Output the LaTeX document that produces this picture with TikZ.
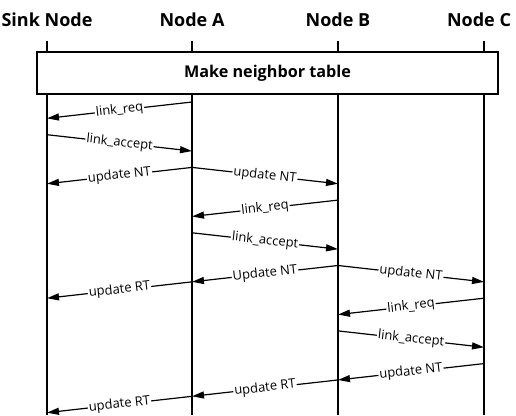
\documentclass[tikz,border=0pt]{standalone}
\usepackage{fontspec}
\setmainfont{Open Sans}
\usetikzlibrary{arrows.meta, positioning}

\begin{document}
\begin{tikzpicture}[x=1pt, y=1pt,
    head/.style={font=\fontsize{18}{20}\selectfont\bfseries, inner sep=0pt},
    life/.style={line width=1.4pt},
    phase/.style={draw, line width=1.1pt, fill=white, minimum width=461pt, minimum height=42pt, font=\fontsize{16.2}{18}\selectfont\bfseries},
    msg/.style={line width=1.2pt, -{Triangle[length=12pt, width=7pt]}},
    lbl/.style={midway, sloped, fill=white, inner sep=1pt, font=\fontsize{13}{15}\selectfont}]

\useasboundingbox (0,0) rectangle (516,-415);

% Lifeline tops and bottom
\coordinate (S) at (47,-41);
\coordinate (A) at (192,-41);
\coordinate (B) at (338,-41);
\coordinate (C) at (484,-41);
\coordinate (bot) at (0,-415);

% Headers
\node[head, above=14pt of S] (hs) {Sink Node};
\node[head, above=14pt of A] (ha) {Node A};
\node[head, above=14pt of B] (hb) {Node B};
\node[head, above=14pt of C, xshift=-5pt] (hc) {Node C};

% Lifelines
\draw[life] (S) -- (S |- bot);
\draw[life] (A) -- (A |- bot);
\draw[life] (B) -- (B |- bot);
\draw[life] (C) -- (C |- bot);

% Phase box
\node[phase] (mk) at (267.5,-73) {Make neighbor table};

% Message rows
\foreach \i in {0,...,19}
    \coordinate (t\i) at (0,{-102-\i*16.35});

% Sink <-> A
\draw[msg] (A |- t0) -- node[lbl] {link\_req} (S |- t1);
\draw[msg] (S |- t2) -- node[lbl] {link\_accept} (A |- t3);
\draw[msg] (A |- t4) -- node[lbl] {update NT} (S |- t5);
\draw[msg] (A |- t4) -- node[lbl] {update NT} (B |- t5);

% A <-> B
\draw[msg] (B |- t6) -- node[lbl] {link\_req} (A |- t7);
\draw[msg] (A |- t8) -- node[lbl] {link\_accept} (B |- t9);
\draw[msg] (B |- t10) -- node[lbl] {Update NT} (A |- t11);
\draw[msg] (B |- t10) -- node[lbl] {update NT} (C |- t11);
\draw[msg] (A |- t11) -- node[lbl] {update RT} (S |- t12);

% B <-> C
\draw[msg] (C |- t12) -- node[lbl] {link\_req} (B |- t13);
\draw[msg] (B |- t14) -- node[lbl] {link\_accept} (C |- t15);
\draw[msg] (C |- t16) -- node[lbl] {update NT} (B |- t17);
\draw[msg] (B |- t17) -- node[lbl] {update RT} (A |- t18);
\draw[msg] (A |- t18) -- node[lbl] {update RT} (S |- t19);

\end{tikzpicture}
\end{document}
